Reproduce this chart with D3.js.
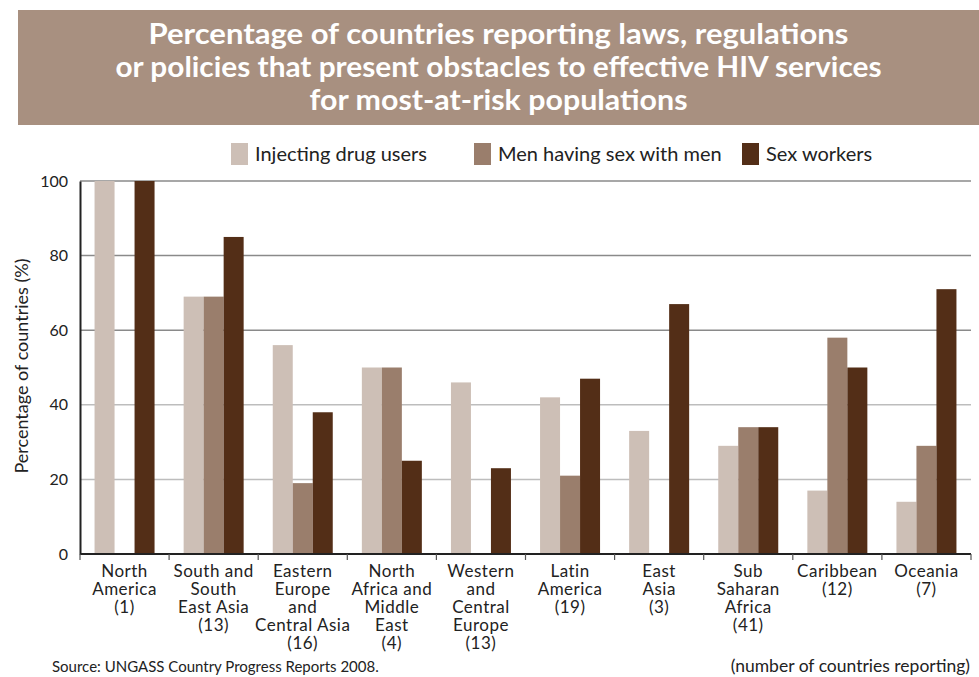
<!DOCTYPE html>
<html><head><meta charset="utf-8">
<script src="https://cdn.jsdelivr.net/npm/d3@7"></script>
<style>body{margin:0;background:#fff}svg{display:block}text{font-family:Lato,"Noto Sans",sans-serif}</style>
</head><body>
<svg id="c" width="979" height="677"></svg>
<script>
const categories = [
  ["North","America","(1)"],
  ["South and","South","East Asia","(13)"],
  ["Eastern","Europe","and","Central Asia","(16)"],
  ["North","Africa and","Middle","East","(4)"],
  ["Western","and","Central","Europe","(13)"],
  ["Latin","America","(19)"],
  ["East","Asia","(3)"],
  ["Sub","Saharan","Africa","(41)"],
  ["Caribbean","(12)"],
  ["Oceania","(7)"]
];
const seriesNames = ["Injecting drug users","Men having sex with men","Sex workers"];
const idu = [100, 69, 56, 50, 46, 42, 33, 29, 17, 14];
const msm = [0, 69, 19, 50, 0, 21, 0, 34, 58, 29];
const sw  = [100, 85, 38, 25, 23, 47, 67, 34, 50, 71];
const yTicks = [0, 20, 40, 60, 80, 100];
const titleLines = ["Percentage of countries reporting laws, regulations","or policies that present obstacles to effective HIV services","for most-at-risk populations"];
const colors = ["#cdbfb6", "#9a7e6c", "#532e17"];

const svg = d3.select("#c");
const W = 979, H = 677;
const m = {l:80, r:8, t:181, b:123};
const x0 = d3.scaleBand().domain(d3.range(categories.length)).range([m.l, W - m.r]).paddingInner(0).paddingOuter(0);
const x1 = d3.scaleBand().domain([0,1,2]).range([0, 60]);
const y = d3.scaleLinear().domain([0,100]).range([H - m.b, m.t]);

// Title box
svg.append("rect").attr("x",18).attr("y",10).attr("width",W-18).attr("height",115).attr("fill","#a89080");
const titleW = [700, 766, 378];
titleLines.forEach((t,i)=>{
  svg.append("text").attr("x",(18+W)/2).attr("y",44+i*33).attr("text-anchor","middle")
    .attr("fill","#fff").attr("font-weight","bold").attr("font-size",29)
    .attr("textLength",titleW[i]).attr("lengthAdjust","spacingAndGlyphs").text(t);
});

// Gridlines
yTicks.filter(d=>d>0).forEach(d=>{
  svg.append("line").attr("x1",m.l).attr("x2",W-m.r).attr("y1",y(d)).attr("y2",y(d))
    .attr("stroke", d>=60 ? "#8a8a8a" : "#bdbdbd").attr("stroke-width",1.5);
});

// Bars
const data = [idu, msm, sw];
categories.forEach((c,i)=>{
  const gx = x0(i) + (x0.bandwidth()-60)/2;
  data.forEach((s,k)=>{
    if (s[i] > 0) svg.append("rect").attr("x",gx + x1(k)).attr("width",x1.bandwidth())
      .attr("y",y(s[i])).attr("height",y(0)-y(s[i])).attr("fill",colors[k]);
  });
});

// Y axis
const yAxis = svg.append("g").attr("transform",`translate(${m.l},0)`)
  .call(d3.axisLeft(y).tickValues(yTicks).tickSize(0).tickPadding(12));
yAxis.select(".domain").attr("stroke","#222").attr("stroke-width",2);
yAxis.selectAll("text").attr("font-size",16).attr("fill","#222").style("font-family","Lato");

// X axis line and ticks
svg.append("line").attr("x1",m.l).attr("x2",W-m.r).attr("y1",y(0)).attr("y2",y(0)).attr("stroke","#222").attr("stroke-width",2);
d3.range(categories.length+1).forEach(i=>{
  const xx = i<categories.length ? x0(i) : x0(categories.length-1)+x0.bandwidth();
  svg.append("line").attr("x1",xx).attr("x2",xx).attr("y1",y(0)).attr("y2",y(0)+6).attr("stroke","#555").attr("stroke-width",1.2);
});

// X labels
categories.forEach((c,i)=>{
  const t = svg.append("text").attr("text-anchor","middle").attr("font-size",17)
    .attr("letter-spacing",0.5).attr("fill","#222");
  c.forEach((line,j)=>{
    t.append("tspan").attr("x",x0(i)+x0.bandwidth()/2).attr("y",y(0)+23+j*18).text(line);
  });
});

// Y title
svg.append("text").attr("transform",`translate(28,366) rotate(-90)`)
  .attr("text-anchor","middle").attr("font-size",18).attr("fill","#222").text("Percentage of countries (%)");

// Legend
const legX = [231, 474, 742];
seriesNames.forEach((n,k)=>{
  svg.append("rect").attr("x",legX[k]).attr("y",143).attr("width",17).attr("height",22).attr("fill",colors[k]);
  svg.append("text").attr("x",legX[k]+24).attr("y",161).attr("font-size",20).attr("fill","#222").text(n);
});

// Footer
svg.append("text").attr("x",52).attr("y",672).attr("font-size",15).attr("fill","#222").text("Source: UNGASS Country Progress Reports 2008.");
svg.append("text").attr("x",970).attr("y",672).attr("text-anchor","end").attr("font-size",17.5).attr("fill","#222").text("(number of countries reporting)");
</script>
</body></html>
